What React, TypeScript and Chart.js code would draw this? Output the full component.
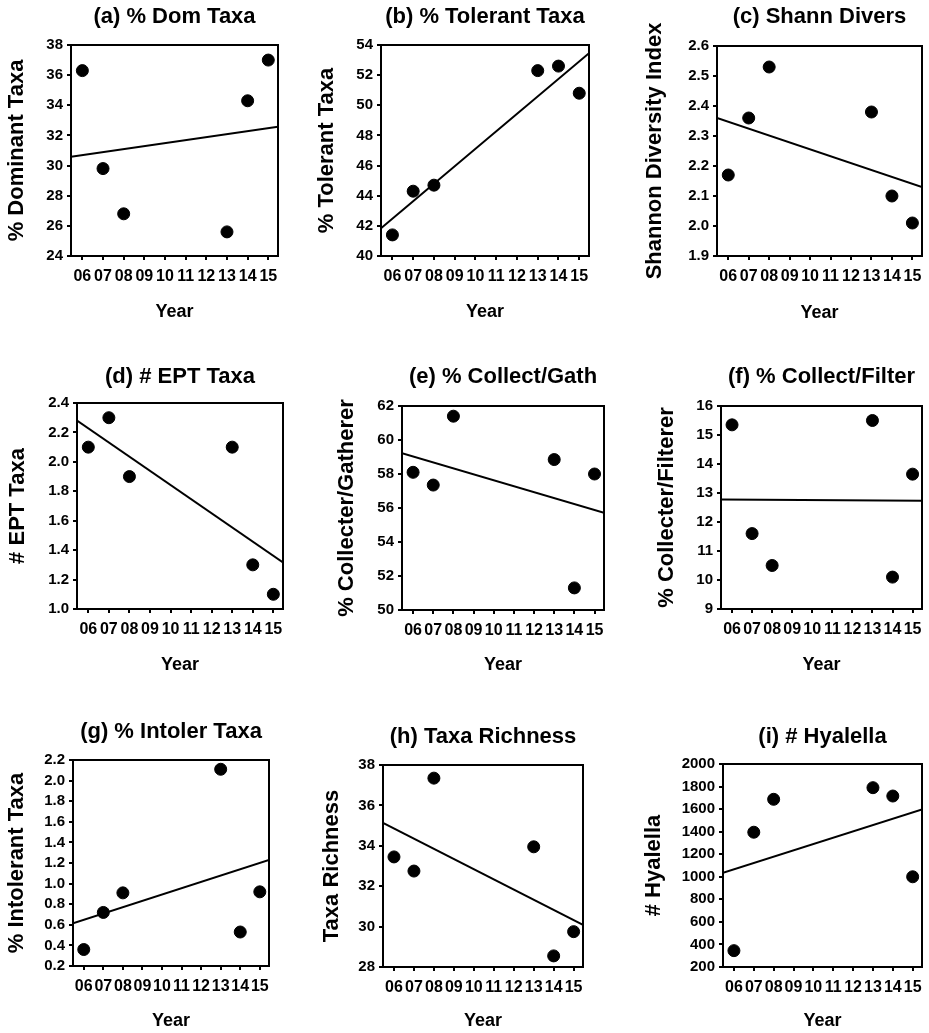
import React, { useEffect, useRef } from "react";
import { Chart, registerables } from "chart.js";

Chart.register(...registerables);
Chart.defaults.font.family = "'Liberation Sans', Arial, Helvetica, sans-serif";
Chart.defaults.color = "#000";

// ---------- data ----------
const years = [6, 7, 8, 13, 14, 15];
const xTickValues = [6, 7, 8, 9, 10, 11, 12, 13, 14, 15];
const xTickLabels = ["06", "07", "08", "09", "10", "11", "12", "13", "14", "15"];
const xAxisMin = 5.45;
const xAxisMax = 15.47;
const xAxisTitle = "Year";

const domTaxa = [36.3, 29.8, 26.8, 25.6, 34.3, 37.0];
const tolerantTaxa = [41.4, 44.3, 44.7, 52.3, 52.6, 50.8];
const shannonDiv = [2.17, 2.36, 2.53, 2.38, 2.1, 2.01];
const eptTaxa = [2.1, 2.3, 1.9, 2.1, 1.3, 1.1];
const collectGath = [58.1, 57.35, 61.4, 58.85, 51.3, 58.0];
const collectFilter = [15.35, 11.6, 10.5, 15.5, 10.1, 13.65];
const intolerTaxa = [0.36, 0.72, 0.91, 2.11, 0.53, 0.92];
const taxaRichness = [33.45, 32.75, 37.35, 33.95, 28.55, 29.75];
const hyalella = [345, 1395, 1687, 1790, 1716, 1000];

// trend line values at the left and right edge of the x axis
const trendDom = [30.59, 32.58];
const trendTol = [41.84, 53.45];
const trendShan = [2.36, 2.13];
const trendEpt = [2.28, 1.316];
const trendGath = [59.22, 55.72];
const trendFilt = [12.78, 12.73];
const trendIntol = [0.615, 1.229];
const trendRich = [35.14, 30.08];
const trendHyal = [1036, 1598];

const panelTitles = [
  "(a) % Dom Taxa",
  "(b) % Tolerant Taxa",
  "(c) Shann Divers",
  "(d) # EPT Taxa",
  "(e) % Collect/Gath",
  "(f) % Collect/Filter",
  "(g) % Intoler Taxa",
  "(h) Taxa Richness",
  "(i) # Hyalella",
];
const yAxisTitles = [
  "% Dominant Taxa",
  "% Tolerant Taxa",
  "Shannon Diversity Index",
  "# EPT Taxa",
  "% Collecter/Gatherer",
  "% Collecter/Filterer",
  "% Intolerant Taxa",
  "Taxa Richness",
  "# Hyalella",
];
const yMins = [24, 40, 1.9, 1.0, 50, 9, 0.2, 28, 200];
const yMaxs = [38, 54, 2.6, 2.4, 62, 16, 2.2, 38, 2000];
const ySteps = [2, 2, 0.1, 0.2, 2, 1, 0.2, 2, 200];
const yDecimals = [0, 0, 1, 1, 0, 0, 1, 0, 0];

const seriesList = [domTaxa, tolerantTaxa, shannonDiv, eptTaxa, collectGath, collectFilter, intolerTaxa, taxaRichness, hyalella];
const trendList = [trendDom, trendTol, trendShan, trendEpt, trendGath, trendFilt, trendIntol, trendRich, trendHyal];

// ---------- layout (page pixel positions) ----------
const PAGE_W = 929;
const PAGE_H = 1033;
const boxes = [
  { L: 71, R: 278, T: 45, B: 256, titleY: 17, yTitleX: 17, xTitleY: 312 },
  { L: 381, R: 589, T: 45, B: 256, titleY: 17, yTitleX: 327, xTitleY: 312 },
  { L: 717, R: 923, T: 46, B: 256, titleY: 17, yTitleX: 655, xTitleY: 313 },
  { L: 77, R: 283, T: 403, B: 609, titleY: 377, yTitleX: 18, xTitleY: 665 },
  { L: 402, R: 604, T: 406, B: 610, titleY: 377, yTitleX: 347, xTitleY: 665 },
  { L: 721, R: 923, T: 406, B: 609, titleY: 377, yTitleX: 667, xTitleY: 665 },
  { L: 73, R: 269, T: 760, B: 966, titleY: 732, yTitleX: 17, xTitleY: 1021 },
  { L: 383, R: 583, T: 765, B: 967, titleY: 737, yTitleX: 332, xTitleY: 1021 },
  { L: 723, R: 923, T: 764, B: 967, titleY: 737, yTitleX: 654, xTitleY: 1021 },
];

const TITLE_SIZE = 22;
const XTITLE_SIZE = 18;

const framePlugin = {
  id: "frame",
  afterDraw(chart: any) {
    const { ctx, chartArea } = chart;
    ctx.save();
    ctx.strokeStyle = "#000";
    ctx.lineWidth = 2;
    ctx.strokeRect(chartArea.left, chartArea.top, chartArea.right - chartArea.left, chartArea.bottom - chartArea.top);
    ctx.restore();
  },
};

function Panel({ idx }: { idx: number }) {
  const ref = useRef<HTMLCanvasElement>(null);
  useEffect(() => {
    const b = boxes[idx];
    const values = seriesList[idx];
    const trend = trendList[idx];
    const dec = yDecimals[idx];
    const chart = new Chart(ref.current as HTMLCanvasElement, {
      type: "scatter",
      data: {
        datasets: [
          {
            data: years.map((x, i) => ({ x, y: values[i] })),
            backgroundColor: "#000",
            borderColor: "#000",
            borderWidth: 1,
            pointRadius: 6,
            showLine: false,
            order: 0,
          } as any,
          {
            type: "line",
            data: [
              { x: xAxisMin, y: trend[0] },
              { x: xAxisMax, y: trend[1] },
            ],
            borderColor: "#000",
            borderWidth: 2,
            pointRadius: 0,
            showLine: true,
            fill: false,
            order: 1,
          } as any,
        ],
      },
      options: {
        animation: false,
        responsive: false,
        devicePixelRatio: 1,
        events: [],
        layout: {
          padding: {
            left: 0,
            right: PAGE_W - b.R,
            top: b.titleY - TITLE_SIZE / 2,
            bottom: PAGE_H - (b.xTitleY + XTITLE_SIZE / 2),
          },
        },
        plugins: {
          legend: { display: false },
          tooltip: { enabled: false },
          title: {
            display: true,
            text: panelTitles[idx],
            fullSize: false,
            color: "#000",
            font: { size: TITLE_SIZE, weight: "bold", lineHeight: 1 },
            padding: { top: 0, bottom: b.T - b.titleY - TITLE_SIZE / 2 },
          },
        },
        scales: {
          x: {
            type: "linear",
            position: "bottom",
            min: xAxisMin,
            max: xAxisMax,
            afterFit: (s: any) => {
              s.height = b.xTitleY + XTITLE_SIZE / 2 - b.B;
            },
            afterBuildTicks: (s: any) => {
              s.ticks = xTickValues.map((v) => ({ value: v }));
            },
            ticks: {
              autoSkip: false,
              maxRotation: 0,
              minRotation: 0,
              padding: 7,
              color: "#000",
              font: { size: 16, weight: "bold" },
              callback: (v: any) => xTickLabels[xTickValues.indexOf(Number(v))],
            },
            grid: { display: true, drawOnChartArea: false, drawTicks: true, tickLength: 4, color: "#000", lineWidth: 2 },
            border: { display: true, color: "#000", width: 2 },
            title: {
              display: true,
              text: xAxisTitle,
              color: "#000",
              font: { size: XTITLE_SIZE, weight: "bold", lineHeight: 1 },
              padding: { top: 0, bottom: 0 },
            },
          },
          y: {
            type: "linear",
            position: "left",
            min: yMins[idx],
            max: yMaxs[idx],
            afterFit: (s: any) => {
              s.width = b.L;
            },
            ticks: {
              stepSize: ySteps[idx],
              autoSkip: false,
              padding: 4,
              color: "#000",
              font: { size: 15, weight: "bold" },
              callback: (v: any) => Number(v).toFixed(dec),
            },
            grid: { display: true, drawOnChartArea: false, drawTicks: true, tickLength: 4, color: "#000", lineWidth: 2 },
            border: { display: true, color: "#000", width: 2 },
            title: {
              display: true,
              text: yAxisTitles[idx],
              color: "#000",
              font: { size: TITLE_SIZE, weight: "bold", lineHeight: 1 },
              padding: { top: b.yTitleX - TITLE_SIZE / 2, bottom: 0 },
            },
          },
        },
      } as any,
      plugins: [framePlugin],
    });
    return () => chart.destroy();
  }, [idx]);
  return (
    <canvas
      ref={ref}
      width={PAGE_W}
      height={PAGE_H}
      style={{ position: "absolute", left: 0, top: 0, width: PAGE_W, height: PAGE_H }}
    />
  );
}

export default function App() {
  return (
    <div style={{ position: "absolute", left: 0, top: 0, width: PAGE_W, height: PAGE_H, background: "#fff", overflow: "hidden" }}>
      {panelTitles.map((_, i) => (
        <Panel key={i} idx={i} />
      ))}
    </div>
  );
}
